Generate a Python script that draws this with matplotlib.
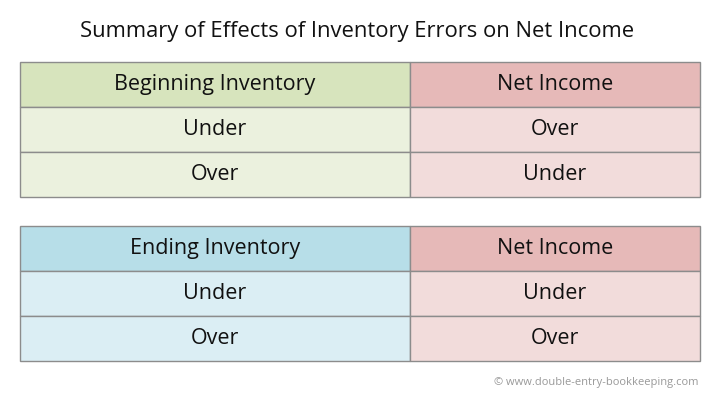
import matplotlib
matplotlib.use("Agg")
import matplotlib.pyplot as plt
from matplotlib.patches import Rectangle

title = "Summary of Effects of Inventory Errors on Net Income"
table1_headers = ["Beginning Inventory", "Net Income"]
table1_rows = [["Under", "Over"], ["Over", "Under"]]
table2_headers = ["Ending Inventory", "Net Income"]
table2_rows = [["Under", "Under"], ["Over", "Over"]]
credit = "© www.double-entry-bookkeeping.com"

fig = plt.figure(figsize=(7.2, 4.04), dpi=100)
ax = fig.add_axes([0, 0, 1, 1])
ax.set_xlim(0, 720)
ax.set_ylim(404, 0)
ax.axis("off")

FONT = "Open Sans"
ax.text(357, 31, title, ha="center", va="center", fontsize=15.8, family=FONT, color="#111111")

def draw_table(top, headers, rows, left_cols, right_cols):
    x0, xm, x1 = 20, 410, 700
    h = 45
    allrows = [headers] + rows
    for i, r in enumerate(allrows):
        y = top + i * h
        lc = left_cols[0] if i == 0 else left_cols[1]
        rc = right_cols[0] if i == 0 else right_cols[1]
        ax.add_patch(Rectangle((x0, y), xm - x0, h, facecolor=lc, edgecolor="#8c8c8c", lw=1))
        ax.add_patch(Rectangle((xm, y), x1 - xm, h, facecolor=rc, edgecolor="#8c8c8c", lw=1))
        ax.text((x0 + xm) / 2, y + h / 2, r[0], ha="center", va="center", fontsize=15.5, family=FONT, color="#111111")
        ax.text((xm + x1) / 2, y + h / 2, r[1], ha="center", va="center", fontsize=15.5, family=FONT, color="#111111")

draw_table(62, table1_headers, table1_rows, ("#d7e4bd", "#ebf1de"), ("#e6b9b8", "#f2dcdb"))
draw_table(226, table2_headers, table2_rows, ("#b7dee8", "#dbeef4"), ("#e6b9b8", "#f2dcdb"))

ax.text(698, 383, credit, ha="right", va="center", fontsize=8, family=FONT, color="#999999")

fig.savefig("out.png", dpi=100)
